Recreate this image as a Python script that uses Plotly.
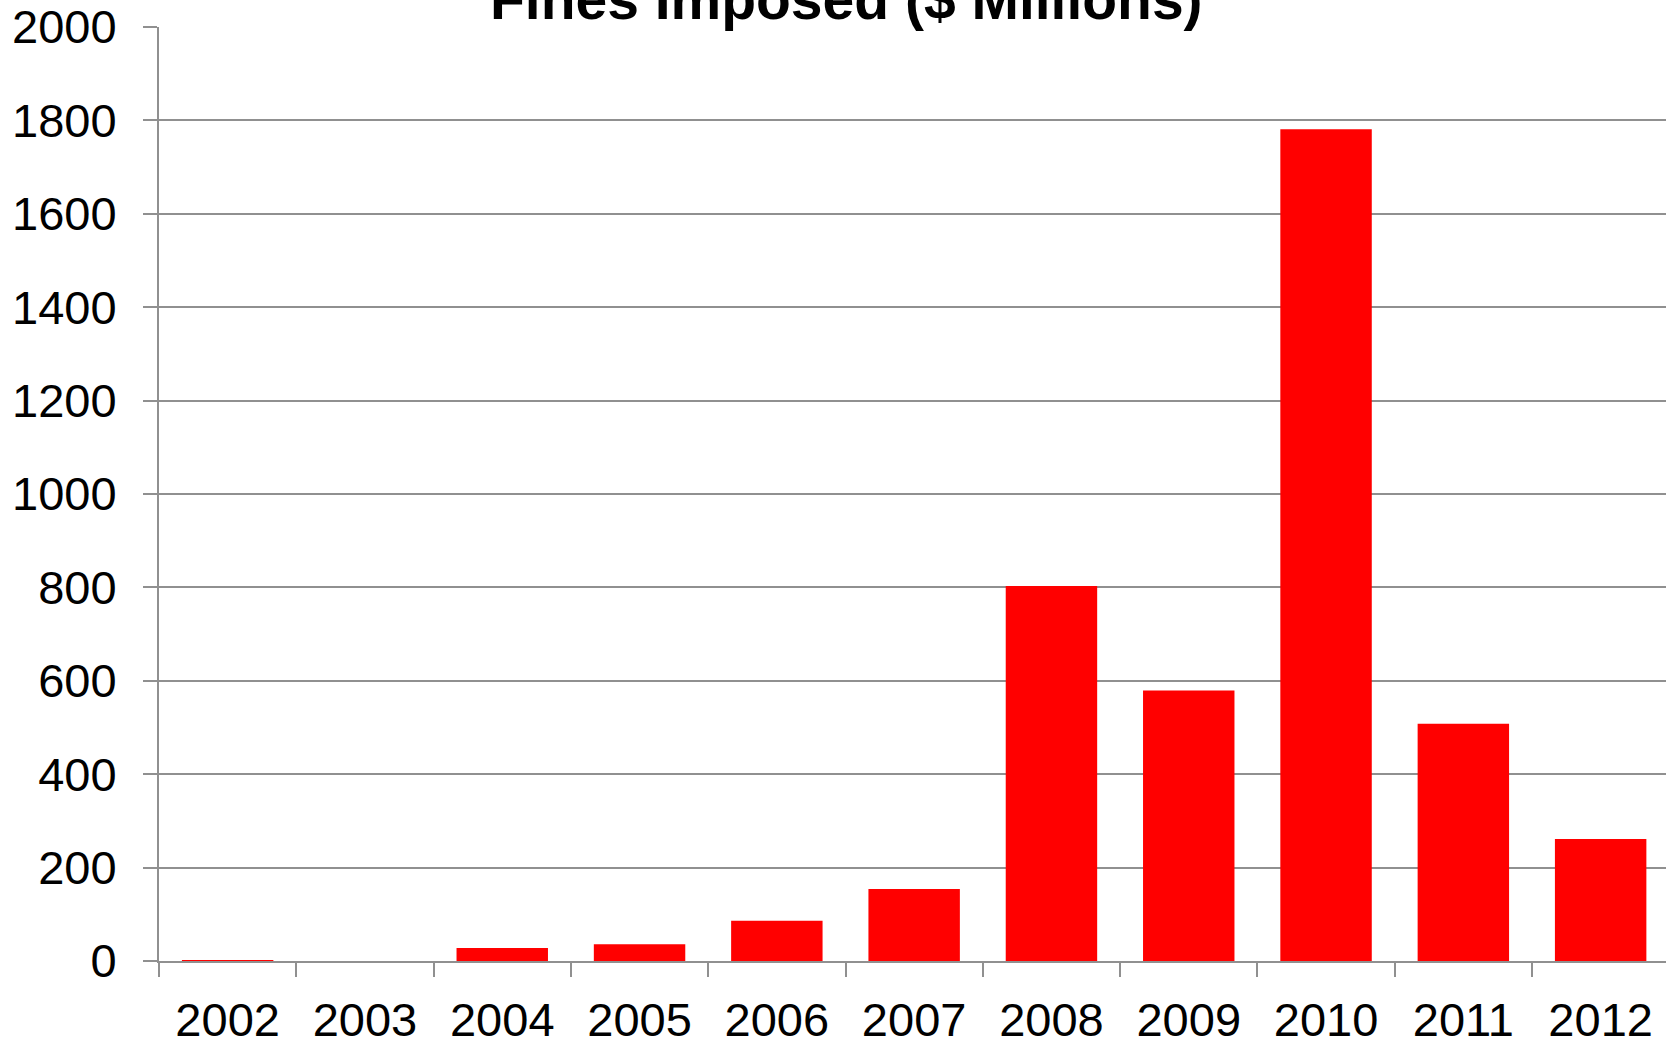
import plotly.graph_objects as go

years = ["2002", "2003", "2004", "2005", "2006", "2007", "2008", "2009", "2010", "2011", "2012"]
fines = [2, 0, 28, 36, 86, 154, 803, 579, 1781, 508, 261]
title_text = "Fines Imposed ($ Millions)"
y_ticks = [0, 200, 400, 600, 800, 1000, 1200, 1400, 1600, 1800, 2000]

W, H = 1666, 1040
L, T, B, R = 159, 27, 79, 0

fig = go.Figure(go.Bar(
    x=years, y=fines,
    marker=dict(color="#ff0000", line=dict(width=0)),
    width=0.666,
))

grid = "#909090"
font = dict(family="Liberation Sans, Arial, sans-serif", size=47, color="#000000")

fig.update_layout(
    width=W, height=H,
    margin=dict(l=L, r=R, t=T, b=B, pad=0, autoexpand=False),
    paper_bgcolor="white", plot_bgcolor="white",
    showlegend=False,
    font=font,
    annotations=[dict(
        text="<b>" + title_text + "</b>",
        xref="paper", yref="paper",
        x=(846.5 - L) / (W - L - R), y=1 + (T + 1) / (H - T - B),
        xanchor="center", yanchor="middle",
        showarrow=False,
        font=dict(family="Liberation Sans, Arial, sans-serif", size=57, color="#000000"),
    )],
)

fig.update_xaxes(
    type="category",
    range=[-0.5, 10.476],
    automargin=False,
    showline=True, linecolor=grid, linewidth=2,
    ticks="outside", ticklen=14, tickcolor=grid, tickwidth=2,
    tickson="boundaries",
    showgrid=False,
    tickfont=font,
    ticklabelstandoff=17,
)
fig.update_yaxes(
    range=[0, 2000],
    tickvals=y_ticks,
    automargin=False,
    showline=True, linecolor=grid, linewidth=2,
    ticks="outside", ticklen=14, tickcolor=grid, tickwidth=2,
    showgrid=True, gridcolor=grid, gridwidth=2,
    zeroline=False,
    tickfont=font,
    ticklabelstandoff=17,
)

fig.write_html("out.html")
